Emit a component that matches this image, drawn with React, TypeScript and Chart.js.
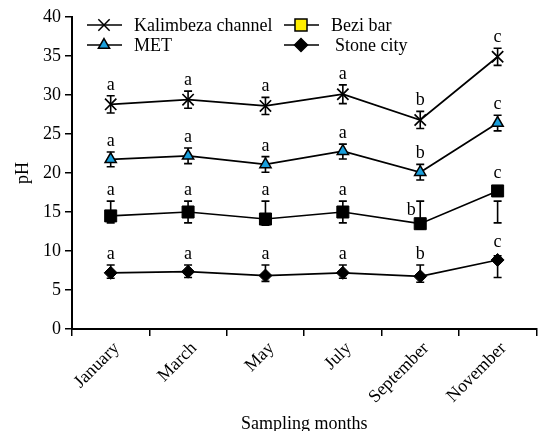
import React, { useEffect, useRef } from 'react';
import { Chart, registerables } from 'chart.js';
import { drawPoint } from 'chart.js/helpers';

Chart.register(...registerables);

const FONT = "'Liberation Serif', 'Times New Roman', serif";

const months = ['January', 'March', 'May', 'July', 'September', 'November'];
const yTicks = [0, 5, 10, 15, 20, 25, 30, 35, 40];

const kalimbeza = [28.8, 29.4, 28.6, 30.1, 26.8, 34.9];
const kalimbezaLow = [27.7, 28.3, 27.5, 28.9, 25.7, 33.8];
const kalimbezaHigh = [29.9, 30.5, 29.7, 31.3, 27.9, 36.0];
const kalimbezaLetters = ['a', 'a', 'a', 'a', 'b', 'c'];

const met = [21.75, 22.2, 21.1, 22.8, 20.1, 26.4];
const metLow = [20.8, 21.2, 20.1, 21.8, 19.1, 25.4];
const metHigh = [22.7, 23.2, 22.1, 23.7, 21.1, 27.4];
const metLetters = ['a', 'a', 'a', 'a', 'b', 'c'];

const beziBar = [14.5, 15.0, 14.1, 15.0, 13.5, 17.7];
const beziLow = [13.6, 13.6, 13.3, 13.6, 12.8, 13.6];
const beziHigh = [16.4, 16.4, 16.4, 16.4, 16.4, 16.4];
const beziLetters = ['a', 'a', 'a', 'a', 'b', 'c'];

const stoneCity = [7.2, 7.35, 6.85, 7.2, 6.75, 8.85];
const stoneLow = [6.5, 6.6, 6.1, 6.5, 6.0, 6.6];
const stoneHigh = [8.2, 8.2, 8.2, 8.2, 8.2, 9.4];
const stoneLetters = ['a', 'a', 'a', 'a', 'b', 'c'];

const BLUE = '#1a9fdc';

const extras = {
  id: 'extras',
  beforeDatasetsDraw(chart: any) {
    const ctx = chart.ctx;
    const y = chart.scales.y;
    ctx.save();
    ctx.strokeStyle = '#000';
    ctx.lineWidth = 1.6;
    chart.data.datasets.forEach((ds: any, i: number) => {
      const meta = chart.getDatasetMeta(i);
      meta.data.forEach((pt: any, j: number) => {
        const x = pt.x;
        const lo = y.getPixelForValue(ds.errLow[j]);
        const hi = y.getPixelForValue(ds.errHigh[j]);
        ctx.beginPath();
        ctx.moveTo(x, lo);
        ctx.lineTo(x, hi);
        ctx.moveTo(x - 4, lo);
        ctx.lineTo(x + 4, lo);
        ctx.moveTo(x - 4, hi);
        ctx.lineTo(x + 4, hi);
        ctx.stroke();
      });
    });
    ctx.restore();
  },
  afterDraw(chart: any) {
    const ctx = chart.ctx;
    const y = chart.scales.y;
    ctx.save();
    ctx.fillStyle = '#000';
    ctx.font = `18px ${FONT}`;
    ctx.textAlign = 'center';
    ctx.textBaseline = 'alphabetic';
    chart.data.datasets.forEach((ds: any, i: number) => {
      const meta = chart.getDatasetMeta(i);
      meta.data.forEach((pt: any, j: number) => {
        const hi = y.getPixelForValue(ds.errHigh[j]);
        const side = ds.letterSide ? ds.letterSide[j] : 'above';
        if (side === 'left') {
          ctx.fillText(ds.letters[j], pt.x - 9, hi + 14);
        } else {
          const top = Math.min(hi, pt.y - ds.markerTop);
          ctx.fillText(ds.letters[j], pt.x, top - 6);
        }
      });
    });

    // legend
    const L = chart.chartArea.left;
    const items = [
      { label: 'Kalimbeza channel', x0: L + 15, y: 25, style: 'crossRot', r: 8, fill: '#000' },
      { label: 'MET', x0: L + 15, y: 45, style: 'triangle', r: 6.5, fill: BLUE },
      { label: 'Bezi bar', x0: L + 212, y: 25, style: 'rect', r: 8.5, fill: '#ffee00' },
      { label: 'Stone city', x0: L + 212, y: 45, style: 'rectRot', r: 6.5, fill: '#000' },
    ];
    ctx.font = `18px ${FONT}`;
    ctx.textAlign = 'left';
    ctx.textBaseline = 'middle';
    items.forEach((it, k) => {
      ctx.strokeStyle = '#000';
      ctx.lineWidth = 1.6;
      ctx.beginPath();
      ctx.moveTo(it.x0, it.y);
      ctx.lineTo(it.x0 + 35, it.y);
      ctx.stroke();
      ctx.fillStyle = it.fill;
      ctx.strokeStyle = '#000';
      ctx.lineWidth = 1.5;
      drawPoint(ctx, { pointStyle: it.style, radius: it.r, rotation: 0, borderWidth: 1.5 } as any, it.x0 + 17, it.y);
      ctx.fillStyle = '#000';
      ctx.fillText(it.label, it.x0 + (k === 3 ? 51 : 47), it.y + 1);
    });
    ctx.restore();
  },
};

export default function App() {
  const ref = useRef<HTMLCanvasElement>(null);
  useEffect(() => {
    if (!ref.current) return;
    const chart = new Chart(ref.current, {
      type: 'line',
      data: {
        labels: months,
        datasets: [
          {
            label: 'Kalimbeza channel',
            data: kalimbeza,
            borderColor: '#000',
            borderWidth: 1.7,
            pointStyle: 'crossRot',
            pointRadius: 8,
            pointBorderWidth: 1.7,
            pointBorderColor: '#000',
            pointBackgroundColor: '#000',
            errLow: kalimbezaLow,
            errHigh: kalimbezaHigh,
            letters: kalimbezaLetters,
            markerTop: 6,
          } as any,
          {
            label: 'MET',
            data: met,
            borderColor: '#000',
            borderWidth: 1.7,
            pointStyle: 'triangle',
            pointRadius: 6.5,
            pointBorderWidth: 1.5,
            pointBorderColor: '#000',
            pointBackgroundColor: BLUE,
            errLow: metLow,
            errHigh: metHigh,
            letters: metLetters,
            markerTop: 7,
          } as any,
          {
            label: 'Bezi bar',
            data: beziBar,
            borderColor: '#000',
            borderWidth: 1.7,
            pointStyle: 'rect',
            pointRadius: 8.5,
            pointBorderWidth: 1,
            pointBorderColor: '#000',
            pointBackgroundColor: '#000',
            errLow: beziLow,
            errHigh: beziHigh,
            letters: beziLetters,
            letterSide: ['above', 'above', 'above', 'above', 'left', 'above'],
            markerTop: 7,
          } as any,
          {
            label: 'Stone city',
            data: stoneCity,
            borderColor: '#000',
            borderWidth: 1.7,
            pointStyle: 'rectRot',
            pointRadius: 6.5,
            pointBorderWidth: 1,
            pointBorderColor: '#000',
            pointBackgroundColor: '#000',
            errLow: stoneLow,
            errHigh: stoneHigh,
            letters: stoneLetters,
            markerTop: 7,
          } as any,
        ],
      },
      options: {
        responsive: false,
        animation: false,
        events: [],
        layout: { padding: { top: 17, right: 0, left: 0, bottom: 0 } },
        plugins: { legend: { display: false }, tooltip: { enabled: false } },
        scales: {
          x: {
            type: 'category',
            offset: true,
            afterFit: (s: any) => { s.height = 102; },
            grid: {
              display: true,
              offset: true,
              drawOnChartArea: false,
              drawTicks: true,
              tickLength: 7,
              color: '#000',
              lineWidth: 1.5,
            },
            border: { display: true, color: '#000', width: 2 },
            ticks: {
              color: '#000',
              font: { family: FONT, size: 18 },
              minRotation: 45,
              maxRotation: 45,
              padding: 2,
              labelOffset: 6,
              autoSkip: false,
            },
            title: {
              display: true,
              text: 'Sampling months',
              color: '#000',
              font: { family: FONT, size: 18 },
              padding: { top: 0, bottom: -4 },
            },
          },
          y: {
            type: 'linear',
            min: 0,
            max: 40,
            afterFit: (s: any) => { s.width = 72; },
            afterBuildTicks: (s: any) => { s.ticks = yTicks.map((v) => ({ value: v })); },
            grid: {
              display: true,
              drawOnChartArea: false,
              drawTicks: true,
              tickLength: 7,
              color: '#000',
              lineWidth: 1.5,
            },
            border: { display: true, color: '#000', width: 2 },
            ticks: {
              color: '#000',
              font: { family: FONT, size: 18 },
              padding: 4,
            },
            title: {
              display: true,
              text: 'pH',
              color: '#000',
              font: { family: FONT, size: 18 },
              padding: { top: 12, bottom: 0 },
            },
          },
        },
      },
      plugins: [extras],
    } as any);
    return () => chart.destroy();
  }, []);
  return (
    <div style={{ position: 'absolute', left: 0, top: 0, width: 546, height: 431, background: '#fff' }}>
      <canvas ref={ref} width={546} height={431} />
    </div>
  );
}
